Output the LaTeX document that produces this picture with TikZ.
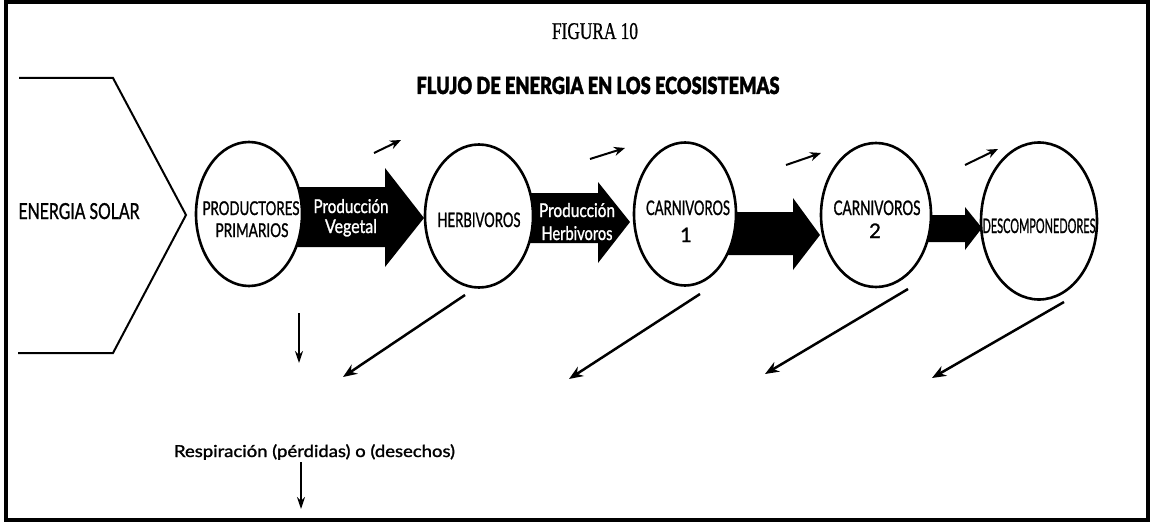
\documentclass[tikz,border=0pt]{standalone}
\usepackage{fontspec}
\usepackage{graphicx}
\usetikzlibrary{shapes.geometric,arrows.meta}
\setmainfont{Lato}[FakeBold=1.4]
\newfontfamily\serifx{Liberation Serif}[FakeBold=0.8]
\newfontfamily\titf{Lato Black}[FakeBold=1.5]
\newsavebox\xfbox
\newcommand\xfitw[2]{\sbox\xfbox{#2}\pgfmathsetmacro\xfr{#1/\wd\xfbox}\scalebox{\xfr}[1]{\usebox\xfbox}}
\begin{document}
\begin{tikzpicture}[x=1pt,y=-1pt,
  txt/.style={inner sep=0pt, anchor=base},
  elli/.style={ellipse, draw, line width=2.6pt, fill=white, inner sep=0pt},
  blk/.style={fill=black},
  smallarr/.style={line width=2pt, -{Stealth[length=11pt,width=9pt]}},
  diagarr/.style={line width=2.5pt, -{Stealth[length=14pt,width=11pt]}},
  vertarr/.style={line width=1.8pt, -{Stealth[length=12pt,width=8pt]}},
  wtxt/.style={txt, text=white}]
\useasboundingbox (0,0) rectangle (1159,524);
\fill[white] (0,0) rectangle (1159,524);
% frame
\draw[line width=3.5pt] (6,2) rectangle (1148,520);
% titles
\node[txt] (fig) at (595,39) {\fontsize{24}{24}\selectfont\serifx\xfitw{86}{FIGURA 10}};
\node[txt] (title) at (598,94) {\fontsize{23.5}{24}\selectfont\titf\xfitw{363}{FLUJO DE ENERGIA EN LOS ECOSISTEMAS}};
% solar chevron
\draw[line width=2pt, line join=miter] (19,78) -- (113,78) -- (186,215) -- (113,353) -- (18,353);
\node[txt] (sol) at (79,219) {\fontsize{22}{22}\selectfont\xfitw{121}{ENERGIA SOLAR}};
% block arrows
\fill[blk] (290,187) -- (385,187) -- (385,168) -- (424,218) -- (385,267) -- (385,247) -- (290,247) -- cycle;
\fill[blk] (520,193) -- (598,193) -- (598,182) -- (630,222) -- (598,263) -- (598,243) -- (520,243) -- cycle;
\fill[blk] (725,212) -- (793,212) -- (793,198) -- (820,235) -- (793,270) -- (793,255) -- (725,255) -- cycle;
\fill[blk] (920,215) -- (965,215) -- (965,207) -- (982,228) -- (965,250) -- (965,242) -- (920,242) -- cycle;
% ellipses
\node[elli, minimum width=106pt, minimum height=144pt] (pp) at (249,214) {};
\node[elli, minimum width=108pt, minimum height=143pt] (hb) at (479,216) {};
\node[elli, minimum width=102pt, minimum height=143pt] (c1) at (685,214) {};
\node[elli, minimum width=110pt, minimum height=144pt] (c2) at (876,215) {};
\node[elli, minimum width=116pt, minimum height=157pt] (dc) at (1039,221) {};
% ellipse labels
\node[txt] (ppa) at (251,215) {\fontsize{19}{19}\selectfont\xfitw{97}{PRODUCTORES}};
\node[txt] (ppb) at (252,237) {\fontsize{19}{19}\selectfont\xfitw{73}{PRIMARIOS}};
\node[txt] (hbt) at (479,227) {\fontsize{20}{20}\selectfont\xfitw{83}{HERBIVOROS}};
\node[txt] (c1a) at (688,215) {\fontsize{20}{20}\selectfont\xfitw{84}{CARNIVOROS}};
\node[txt] (c1b) at (686,242) {\fontsize{20}{20}\selectfont 1};
\node[txt] (c2a) at (877,215) {\fontsize{20}{20}\selectfont\xfitw{87}{CARNIVOROS}};
\node[txt] (c2b) at (875,238) {\fontsize{20}{20}\selectfont 2};
\node[txt] (dct) at (1039,233) {\fontsize{20}{20}\selectfont\xfitw{113}{DESCOMPONEDORES}};
% arrow labels
\node[wtxt] (pva) at (351,213) {\fontsize{19}{19}\selectfont\xfitw{75}{Producción}};
\node[wtxt] (pvb) at (351,233) {\fontsize{19}{19}\selectfont\xfitw{52}{Vegetal}};
\node[wtxt] (pha) at (577,217) {\fontsize{19}{19}\selectfont\xfitw{76}{Producción}};
\node[wtxt] (phb) at (577,240) {\fontsize{19}{19}\selectfont\xfitw{71}{Herbivoros}};
% small arrows (out-going)
\coordinate (s1a) at (374,153); \coordinate (s1b) at (401,140);
\coordinate (s2a) at (590,159); \coordinate (s2b) at (625,148);
\coordinate (s3a) at (786,165); \coordinate (s3b) at (821,153);
\coordinate (s4a) at (965,165); \coordinate (s4b) at (998,149);
\draw[smallarr] (s1a) -- (s1b);
\draw[smallarr] (s2a) -- (s2b);
\draw[smallarr] (s3a) -- (s3b);
\draw[smallarr] (s4a) -- (s4b);
% diagonal arrows (losses)
\coordinate (d1a) at (465,295); \coordinate (d1b) at (343,377);
\coordinate (d2a) at (700,294); \coordinate (d2b) at (569,379);
\coordinate (d3a) at (908,289); \coordinate (d3b) at (765,374);
\coordinate (d4a) at (1064,302); \coordinate (d4b) at (932,378);
\draw[diagarr] (d1a) -- (d1b);
\draw[diagarr] (d2a) -- (d2b);
\draw[diagarr] (d3a) -- (d3b);
\draw[diagarr] (d4a) -- (d4b);
% vertical arrows
\coordinate (v1a) at (299,313); \coordinate (v1b) at (299,363);
\draw[vertarr] (v1a) -- (v1b);
\node[txt] (resp) at (314.5,457) {\fontsize{16.5}{17}\selectfont\xfitw{281}{Respiración (pérdidas) o (desechos)}};
\coordinate (v2b) at (301,509);
\draw[vertarr] ([yshift=-2pt]resp.south -| v2b) -- (v2b);
\end{tikzpicture}
\end{document}
